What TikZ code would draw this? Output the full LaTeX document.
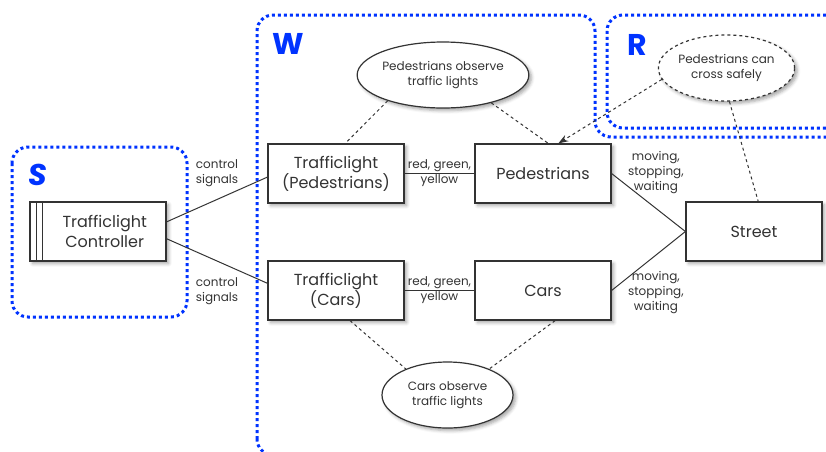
\documentclass[tikz,border=0pt]{standalone}
\usepackage{fontspec}
\setmainfont{Poppins}
\usetikzlibrary{shapes.geometric,arrows.meta,shadows.blur}
\definecolor{zoneblue}{RGB}{0,51,255}
\definecolor{ink}{RGB}{51,51,51}

\begin{document}
\begin{tikzpicture}[x=0.5pt,y=-0.5pt,
    softshadow/.style={blur shadow={shadow xshift=1.3pt,shadow yshift=-1.3pt,
      shadow blur radius=1.6pt,shadow opacity=35}},
    block/.style={draw=ink,line width=0.6pt,fill=white,minimum width=68pt,
      minimum height=29.5pt,inner sep=0pt,align=center,text=ink,
      font=\fontsize{8}{10}\selectfont,softshadow},
    goal/.style={ellipse,draw=ink,line width=0.6pt,fill=white,minimum width=65.5pt,
      minimum height=33pt,inner sep=0pt,align=center,text=ink,
      font=\fontsize{6}{7.5}\selectfont,softshadow},
    zone/.style={draw=zoneblue,line width=1.5pt,dash pattern=on 1.5pt off 1.5pt,
      rounded corners=8pt},
    zonename/.style={text=zoneblue,font=\fontsize{15}{15}\selectfont\bfseries},
    lbl/.style={text=ink,font=\fontsize{6}{7.5}\selectfont,align=center,inner sep=1pt},
    link/.style={draw=ink,line width=0.5pt},
    observe/.style={draw=ink,line width=0.5pt,dash pattern=on 1.5pt off 1.5pt}]
  \useasboundingbox (0,0) rectangle (826,451);
  \clip (0,0) rectangle (826,451);

  % zones
  \draw[zone] (12,147) rectangle (187,317);
  \draw[zone] (257,455) -- (257,15) -- (595,15) -- (595,137) -- (850,137) -- (850,455) -- cycle;
  \draw[zone] (850,15) -- (607,15) -- (607,128) -- (850,128);
  \node[zonename,font=\fontsize{15}{15}\selectfont\bfseries\itshape] (S) at (38,175) {S};
  \node[zonename] (W) at (288,44) {W};
  \node[zonename] (R) at (637,45) {R};

  % boxes
  \node[block] (ctrl) at (98,231.5) {\hspace*{6.7pt}Trafficlight\\\hspace*{6.7pt}Controller};
  \draw[link] ([xshift=3.35pt]ctrl.north west) -- ([xshift=3.35pt]ctrl.south west);
  \draw[link] ([xshift=6.7pt]ctrl.north west) -- ([xshift=6.7pt]ctrl.south west);
  \node[block] (tlp) at (336,173.5) {Trafficlight\\(Pedestrians)};
  \node[block] (ped) at (543,173.5) {Pedestrians};
  \node[block] (tlc) at (336,290.5) {Trafficlight\\(Cars)};
  \node[block] (cars) at (543,290.5) {Cars};
  \node[block] (street) at (754,231.5) {Street};

  % observations and goal
  \node[goal] (pobs) at (443,75) {Pedestrians observe\\traffic lights};
  \node[goal] (cobs) at (447.5,395) {Cars observe\\traffic lights};
  \node[goal,dash pattern=on 1.5pt off 1.5pt] (cross) at (726.5,68) {Pedestrians can\\cross safely};

  % signals
  \draw[link] (ctrl.8) -- node[lbl,pos=0.5,above=5pt] {control\\signals} (tlp.183);
  \draw[link] (ctrl.354) -- node[lbl,pos=0.5,below=7pt] {control\\signals} (tlc.174);
  \draw[link] (tlp) -- node[lbl,midway] {red, green,\\yellow} (ped);
  \draw[link] (tlc) -- node[lbl,midway] {red, green,\\yellow} (cars);
  \draw[link] (ped.east) -- node[lbl,pos=0.6,above=6pt] {moving,\\stopping,\\waiting} (street.west);
  \draw[link] (cars.east) -- node[lbl,pos=0.6,below=7pt] {moving,\\stopping,\\waiting} (street.west);

  % dashed relations
  \draw[observe] (pobs.205) -- (tlp.73);
  \draw[observe] (pobs.330) -- (ped.80);
  \draw[observe,-{Stealth[length=5pt,width=3.5pt]}] (cross.190) -- (ped.63);
  \draw[observe] (cross.275) -- (street.82);
  \draw[observe] (tlc.295) -- (cobs.148);
  \draw[observe] (cars.292) -- (cobs.32);
\end{tikzpicture}
\end{document}
